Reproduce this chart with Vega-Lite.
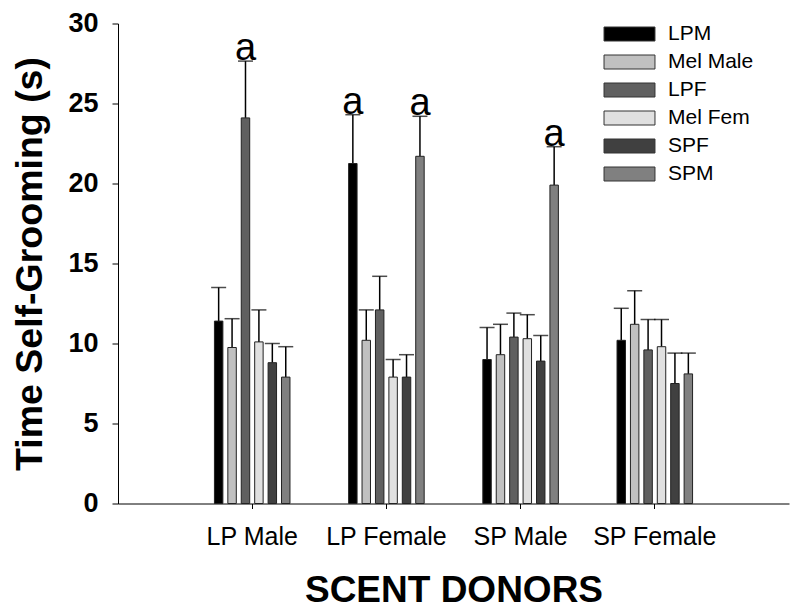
{
  "$schema": "https://vega.github.io/schema/vega-lite/v6.json",
  "width": 671,
  "height": 480,
  "autosize": "none",
  "padding": {"left": 118, "top": 23.5, "right": 11, "bottom": 110.5},
  "background": "white",
  "config": {
    "font": "Liberation Sans",
    "view": {"stroke": null},
    "axis": {"domainColor": "#000", "tickColor": "#000", "labelColor": "#000", "titleColor": "#000", "grid": false, "domainWidth": 1, "tickWidth": 1},
    "legend": {"padding": 0}
  },
  "data": {
    "values": [
      {"donor": "LP Male", "group": "LPM", "mean": 11.4, "upper": 13.5, "label": ""},
      {"donor": "LP Male", "group": "Mel Male", "mean": 9.75, "upper": 11.55, "label": ""},
      {"donor": "LP Male", "group": "LPF", "mean": 24.1, "upper": 27.65, "label": "a"},
      {"donor": "LP Male", "group": "Mel Fem", "mean": 10.1, "upper": 12.1, "label": ""},
      {"donor": "LP Male", "group": "SPF", "mean": 8.8, "upper": 10.0, "label": ""},
      {"donor": "LP Male", "group": "SPM", "mean": 7.9, "upper": 9.8, "label": ""},
      {"donor": "LP Female", "group": "LPM", "mean": 21.25, "upper": 24.3, "label": "a"},
      {"donor": "LP Female", "group": "Mel Male", "mean": 10.2, "upper": 12.1, "label": ""},
      {"donor": "LP Female", "group": "LPF", "mean": 12.1, "upper": 14.2, "label": ""},
      {"donor": "LP Female", "group": "Mel Fem", "mean": 7.9, "upper": 9.0, "label": ""},
      {"donor": "LP Female", "group": "SPF", "mean": 7.9, "upper": 9.3, "label": ""},
      {"donor": "LP Female", "group": "SPM", "mean": 21.7, "upper": 24.2, "label": "a"},
      {"donor": "SP Male", "group": "LPM", "mean": 9.0, "upper": 11.0, "label": ""},
      {"donor": "SP Male", "group": "Mel Male", "mean": 9.3, "upper": 11.2, "label": ""},
      {"donor": "SP Male", "group": "LPF", "mean": 10.4, "upper": 11.9, "label": ""},
      {"donor": "SP Male", "group": "Mel Fem", "mean": 10.3, "upper": 11.8, "label": ""},
      {"donor": "SP Male", "group": "SPF", "mean": 8.9, "upper": 10.5, "label": ""},
      {"donor": "SP Male", "group": "SPM", "mean": 19.9, "upper": 22.3, "label": "a"},
      {"donor": "SP Female", "group": "LPM", "mean": 10.2, "upper": 12.2, "label": ""},
      {"donor": "SP Female", "group": "Mel Male", "mean": 11.2, "upper": 13.3, "label": ""},
      {"donor": "SP Female", "group": "LPF", "mean": 9.6, "upper": 11.5, "label": ""},
      {"donor": "SP Female", "group": "Mel Fem", "mean": 9.8, "upper": 11.5, "label": ""},
      {"donor": "SP Female", "group": "SPF", "mean": 7.5, "upper": 9.4, "label": ""},
      {"donor": "SP Female", "group": "SPM", "mean": 8.1, "upper": 9.4, "label": ""}
    ]
  },
  "encoding": {
    "x": {
      "field": "donor",
      "type": "nominal",
      "sort": ["LP Male", "LP Female", "SP Male", "SP Female"],
      "scale": {"paddingInner": 0.4, "paddingOuter": 0.7},
      "axis": {"title": "SCENT DONORS", "labelAngle": 0, "labelFontSize": 25, "labelPadding": 16, "tickSize": 5, "titleFontSize": 37, "titleFontWeight": "bold", "titlePadding": 23}
    },
    "xOffset": {
      "field": "group",
      "sort": ["LPM", "Mel Male", "LPF", "Mel Fem", "SPF", "SPM"],
      "scale": {"paddingInner": 0.37, "paddingOuter": 0.185}
    }
  },
  "layer": [
    {
      "mark": {"type": "rule", "color": "#000", "strokeWidth": 1.5},
      "encoding": {
        "y": {"field": "mean", "type": "quantitative"},
        "y2": {"field": "upper"}
      }
    },
    {
      "mark": {"type": "tick", "color": "#000", "size": 15, "thickness": 1.5, "orient": "horizontal"},
      "encoding": {
        "y": {"field": "upper", "type": "quantitative"}
      }
    },
    {
      "mark": {"type": "bar", "stroke": "#222", "strokeWidth": 1},
      "encoding": {
        "y": {
          "field": "mean",
          "type": "quantitative",
          "scale": {"domain": [0, 30], "nice": false},
          "axis": {"title": "Time Self-Grooming (s)", "values": [0, 5, 10, 15, 20, 25, 30], "tickSize": 6, "labelFontSize": 27, "labelFontWeight": "bold", "labelPadding": 14, "titleFontSize": 37.5, "titleFontWeight": "bold", "titlePadding": 18}
        },
        "color": {
          "field": "group",
          "type": "nominal",
          "sort": ["LPM", "Mel Male", "LPF", "Mel Fem", "SPF", "SPM"],
          "scale": {"domain": ["LPM", "Mel Male", "LPF", "Mel Fem", "SPF", "SPM"], "range": ["#000000", "#c0c0c0", "#606060", "#e0e0e0", "#404040", "#808080"]},
          "legend": {
            "title": null,
            "orient": "none",
            "legendX": 501,
            "legendY": 0,
            "symbolType": "M-3.64,-1H3.64V1H-3.64Z",
            "symbolSize": 196,
            "symbolStrokeColor": "#333",
            "symbolStrokeWidth": 1,
            "symbolOpacity": 1,
            "labelFontSize": 21,
            "labelOffset": 28,
            "labelColor": "#000",
            "rowPadding": 6
          }
        }
      }
    },
    {
      "transform": [{"filter": "datum.label != ''"}],
      "mark": {"type": "text", "fontSize": 38, "baseline": "alphabetic", "dy": -1, "color": "#000"},
      "encoding": {
        "y": {"field": "upper", "type": "quantitative"},
        "text": {"field": "label"}
      }
    }
  ]
}
